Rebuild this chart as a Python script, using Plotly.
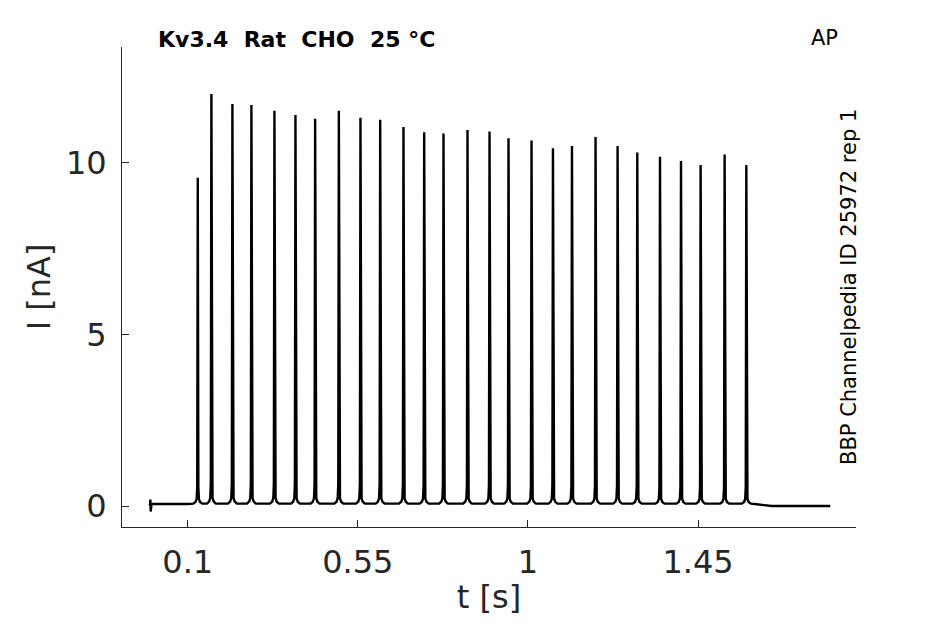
import plotly.graph_objects as go

# spike onset times [s] and peak amplitudes [nA]
spike_t = [0.1265, 0.1625, 0.2181, 0.2684, 0.3293, 0.3849, 0.4370, 0.4997, 0.5569,
           0.6091, 0.6707, 0.7255, 0.7766, 0.8401, 0.8984, 0.9486, 1.0095, 1.0662,
           1.1165, 1.1789, 1.2372, 1.2893, 1.3494, 1.4050, 1.4569, 1.5204, 1.5778]
spike_peak = [9.56, 12.0, 11.71, 11.68, 11.51, 11.39, 11.28, 11.51, 11.31,
              11.25, 11.04, 10.89, 10.85, 10.95, 10.91, 10.71, 10.65, 10.42,
              10.49, 10.75, 10.49, 10.30, 10.17, 10.05, 9.93, 10.24, 9.93]

# shape of one spike: time offset [s] and fraction of peak
shape_dt = [-0.012, -0.006, -0.003, -0.0015, 0.0, 0.0015, 0.003, 0.006, 0.012]
shape_fr = [0.0, 0.005, 0.014, 0.05, 1.0, 0.05, 0.014, 0.005, 0.0]

# start artifact and end of the sweep
start_t = [0.0, 0.001, 0.002, 0.004, 0.10]
start_i = [0.0, 0.19, -0.16, 0.06, 0.06]
base_level = 0.07
tail_t = [1.60, 1.62, 1.645, 1.80]
tail_i = [0.06, 0.04, 0.0, 0.0]

xticks = [0.1, 0.55, 1, 1.45]
xtick_text = ["0.1", "0.55", "1", "1.45"]
yticks = [0, 5, 10]

t = list(start_t)
y = list(start_i)
for st, pk in zip(spike_t, spike_peak):
    for dt, fr in zip(shape_dt, shape_fr):
        t.append(st + dt)
        y.append(base_level + (pk - base_level) * fr)
t += tail_t
y += tail_i

axcol = "#262626"
font = "DejaVu Sans"

fig = go.Figure()
fig.add_trace(go.Scatter(x=t, y=y, mode="lines",
                         line=dict(color="black", width=2.4), showlegend=False))

# page body has an 8px margin, so the figure is a bit smaller than the window
fig.update_layout(
    width=929, height=608,
    paper_bgcolor="white", plot_bgcolor="white",
    margin=dict(l=114, r=81, t=39, b=89),
    font=dict(family=font, color=axcol, size=32),
    xaxis=dict(range=[-0.074, 1.868], tickvals=xticks, ticktext=xtick_text,
               ticks="inside", ticklen=7, tickcolor=axcol, showline=True, linecolor=axcol,
               linewidth=1, showgrid=False, zeroline=False, ticklabelstandoff=7,
               automargin=False, tickfont=dict(size=32, color=axcol),
               title=dict(text="t [s]", font=dict(size=32, color=axcol))),
    yaxis=dict(range=[-0.61, 13.37], tickvals=yticks,
               ticks="inside", ticklen=7, tickcolor=axcol, showline=True, linecolor=axcol,
               linewidth=1, showgrid=False, zeroline=False, ticklabelstandoff=8,
               automargin=False, tickfont=dict(size=32, color=axcol),
               title=dict(text="I [nA]", font=dict(size=32, color=axcol), standoff=5)),
    annotations=[
        dict(text="<b>Kv3.4\u00a0\u00a0Rat\u00a0\u00a0CHO\u00a0\u00a025 °C</b>", xref="paper", yref="paper",
             x=0.047, y=1.015, xanchor="left", yanchor="middle", showarrow=False,
             font=dict(size=22, color="black", family=font)),
        dict(text="AP", xref="paper", yref="paper", x=0.978, y=1.019,
             xanchor="right", yanchor="middle", showarrow=False,
             font=dict(size=21, color="black", family=font)),
        dict(text="BBP Channelpedia ID 25972 rep 1", xref="paper", yref="paper",
             x=0.9905, y=0.5, xanchor="center", yanchor="middle", textangle=-90,
             showarrow=False, font=dict(size=21, color="black", family=font)),
    ],
)

fig.write_html("out.html")
